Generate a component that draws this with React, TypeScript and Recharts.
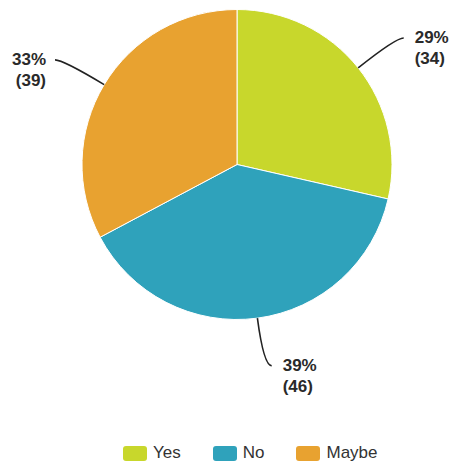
import { PieChart, Pie, Cell, Legend } from 'recharts';

const categories = ['Yes', 'No', 'Maybe'];
const counts = [34, 46, 39];
const percents = ['29%', '39%', '33%'];
const colors = ['#c8d72c', '#2fa2bb', '#e8a230'];

const data = categories.map((name, i) => ({ name, value: counts[i], pct: percents[i] }));

const FONT = '"Liberation Sans", Arial, sans-serif';
const RAD = Math.PI / 180;

function renderLabel(props: any) {
  const { cx, cy, midAngle, outerRadius, index } = props;
  const cos = Math.cos(-midAngle * RAD);
  const sin = Math.sin(-midAngle * RAD);
  const sx = cx + outerRadius * cos;
  const sy = cy + outerRadius * sin;
  const mx = cx + (outerRadius + 48) * cos;
  const my = cy + (outerRadius + 48) * sin;
  const right = cos >= 0;
  const ex = mx + (right ? 8 : -8);
  const ey = my;
  const tx = ex + (right ? 11 : -9);
  const d = data[index];
  return (
    <g>
      <path
        d={`M${sx},${sy} Q${mx},${my} ${ex},${ey}`}
        stroke="#222"
        strokeWidth={1.6}
        fill="none"
      />
      <text
        x={tx}
        y={ey + 5}
        textAnchor={right ? 'start' : 'end'}
        fill="#2a2a2a"
        fontSize={17}
        fontWeight="bold"
        fontFamily={FONT}
      >
        <tspan x={tx}>{d.pct}</tspan>
        <tspan x={tx} dy={21}>{`(${d.value})`}</tspan>
      </text>
    </g>
  );
}

function LegendContent() {
  return (
    <div style={{ display: 'flex', paddingLeft: 123, fontFamily: FONT }}>
      {categories.map((c, i) => (
        <div key={c} style={{ display: 'flex', alignItems: 'center', marginRight: 32 }}>
          <span
            style={{
              display: 'inline-block',
              width: 24,
              height: 15,
              borderRadius: 3,
              background: colors[i],
              marginRight: 6,
            }}
          />
          <span style={{ fontSize: 17, color: '#333' }}>{c}</span>
        </div>
      ))}
    </div>
  );
}

export default function App() {
  return (
    <div style={{ position: 'absolute', left: 0, top: 0, background: '#fff' }}>
      <PieChart width={454} height={464} margin={{ top: 0, right: 0, bottom: 0, left: 0 }}>
        <Pie
          data={data}
          dataKey="value"
          nameKey="name"
          cx={237}
          cy={164.5}
          outerRadius={155}
          startAngle={90}
          endAngle={-270}
          stroke="#fff"
          strokeWidth={1}
          label={renderLabel}
          labelLine={false}
          isAnimationActive={false}
        >
          {data.map((d, i) => (
            <Cell key={d.name} fill={colors[i]} />
          ))}
        </Pie>
        <Legend
          content={<LegendContent />}
          wrapperStyle={{ position: 'absolute', left: 0, top: 443, width: 454 }}
        />
      </PieChart>
    </div>
  );
}
